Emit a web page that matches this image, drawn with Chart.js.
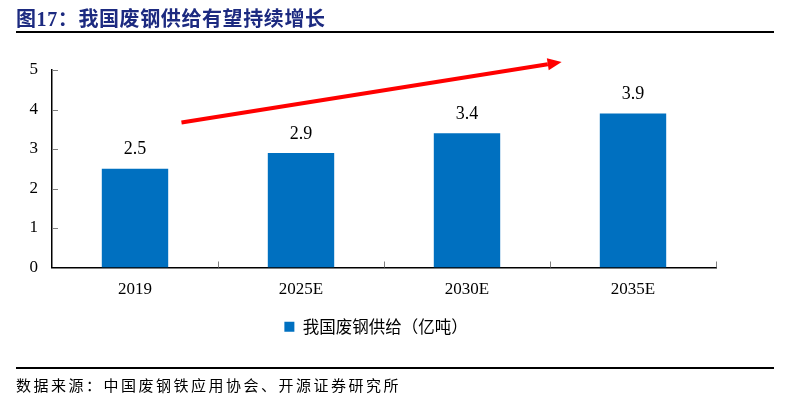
<!DOCTYPE html>
<html>
<head>
<meta charset="utf-8">
<script src="https://cdn.jsdelivr.net/npm/chart.js@4"></script>
<style>
  html, body { margin: 0; padding: 0; background: #fff; }
  #wrap { position: relative; width: 790px; height: 399px; overflow: hidden; }
  #title {
    position: absolute; left: 16px; top: 3px;
    font: bold 20px "Liberation Serif", "Noto Sans CJK SC", serif;
    color: #1c2a80; letter-spacing: 0.6px; white-space: nowrap;
  }
  .rule { position: absolute; left: 16px; width: 758px; height: 2px; background: #000; }
  #source {
    position: absolute; left: 16px; top: 374px;
    font: 15px "Noto Sans CJK SC", sans-serif; color: #000;
    letter-spacing: 2.5px; white-space: nowrap;
  }
  canvas { position: absolute; left: 0; top: 0; }
</style>
</head>
<body>
<div id="wrap">
  <canvas id="chart" width="790" height="399"></canvas>
  <div id="title">图17：我国废钢供给有望持续增长</div>
  <div class="rule" style="top:31px"></div>
  <div class="rule" style="top:367px"></div>
  <div id="source">数据来源：中国废钢铁应用协会、开源证券研究所</div>
</div>
<script>
const categories = ['2019', '2025E', '2030E', '2035E'];
const supply = [2.5, 2.9, 3.4, 3.9];
const yTicks = [0, 1, 2, 3, 4, 5];
const seriesName = '我国废钢供给（亿吨）';

// 红色趋势箭头，按坐标轴数值给出（x 为类目序号，y 为数值）
const arrowFrom = { x: 0.28, y: 3.67 };
const arrowTo = { x: 2.57, y: 5.2 };

const serif = '"Liberation Serif", "Times New Roman", serif';

const innerTicks = {
  id: 'innerTicks',
  afterDraw(chart) {
    const { ctx } = chart;
    const xs = chart.scales.x, ys = chart.scales.y;
    const step = xs.getPixelForValue(1) - xs.getPixelForValue(0);
    ctx.save();
    ctx.strokeStyle = '#7f7f7f';
    ctx.lineWidth = 1;
    ctx.beginPath();
    yTicks.slice(1).forEach(v => {
      const y = Math.round(ys.getPixelForValue(v)) + 0.5;
      ctx.moveTo(xs.left, y);
      ctx.lineTo(xs.left + 6, y);
    });
    for (let i = 0; i < categories.length; i++) {
      const x = Math.round(xs.getPixelForValue(i) + step / 2) + 0.5;
      ctx.moveTo(x, ys.bottom);
      ctx.lineTo(x, ys.bottom - 6);
    }
    ctx.stroke();
    ctx.restore();
  },
};

const barLabels = {
  id: 'barLabels',
  afterDatasetsDraw(chart) {
    const { ctx } = chart;
    chart.getDatasetMeta(0).data.forEach((bar, i) => {
      ctx.save();
      ctx.fillStyle = '#000';
      ctx.font = '18px ' + serif;
      ctx.textAlign = 'center';
      ctx.textBaseline = 'middle';
      ctx.fillText(supply[i].toFixed(1), bar.x, bar.y - 19);
      ctx.restore();
    });
  },
};

const trendArrow = {
  id: 'trendArrow',
  afterDraw(chart) {
    const { ctx } = chart;
    const xs = chart.scales.x, ys = chart.scales.y;
    const x0 = xs.getPixelForValue(arrowFrom.x), y0 = ys.getPixelForValue(arrowFrom.y);
    const x1 = xs.getPixelForValue(arrowTo.x), y1 = ys.getPixelForValue(arrowTo.y);
    const ang = Math.atan2(y1 - y0, x1 - x0);
    const head = 14, hw = 6;
    const bx = x1 - head * Math.cos(ang), by = y1 - head * Math.sin(ang);
    ctx.save();
    ctx.strokeStyle = '#ff0000';
    ctx.fillStyle = '#ff0000';
    ctx.lineWidth = 4;
    ctx.beginPath();
    ctx.moveTo(x0, y0);
    ctx.lineTo(bx, by);
    ctx.stroke();
    ctx.beginPath();
    ctx.moveTo(x1, y1);
    ctx.lineTo(bx + hw * Math.sin(ang), by - hw * Math.cos(ang));
    ctx.lineTo(bx - hw * Math.sin(ang), by + hw * Math.cos(ang));
    ctx.closePath();
    ctx.fill();
    ctx.restore();
  },
};

// 图例整体右移一点，与原图位置对齐
const shiftLegend = {
  id: 'shiftLegend',
  afterLayout(chart) {
    if (chart.legend) {
      chart.legend.left += 18;
      chart.legend.right += 18;
    }
  },
};

new Chart(document.getElementById('chart'), {
  type: 'bar',
  data: {
    labels: categories,
    datasets: [{
      label: seriesName,
      data: supply,
      backgroundColor: '#0070c0',
      categoryPercentage: 1,
      barPercentage: 0.4,
    }],
  },
  options: {
    responsive: false,
    animation: false,
    layout: { padding: { left: 0, right: 74, top: 70, bottom: 54 } },
    scales: {
      x: {
        grid: { display: false },
        border: { display: true, color: '#000', width: 1.5 },
        ticks: { color: '#000', font: { family: serif, size: 17 }, padding: 4 },
        afterFit: (s) => { s.height = 41; },
      },
      y: {
        min: 0, max: 5,
        grid: { display: false },
        border: { display: true, color: '#000', width: 1.5 },
        ticks: { stepSize: 1, color: '#000', font: { family: serif, size: 17 }, padding: 6 },
        afterFit: (s) => { s.width = 52; },
      },
    },
    plugins: {
      legend: {
        position: 'bottom',
        labels: {
          color: '#000',
          boxWidth: 10, boxHeight: 10,
          font: { family: '"Noto Sans CJK SC", sans-serif', size: 16.5 },
          padding: 10,
        },
      },
      tooltip: { enabled: false },
    },
  },
  plugins: [innerTicks, barLabels, trendArrow, shiftLegend],
});
</script>
</body>
</html>
